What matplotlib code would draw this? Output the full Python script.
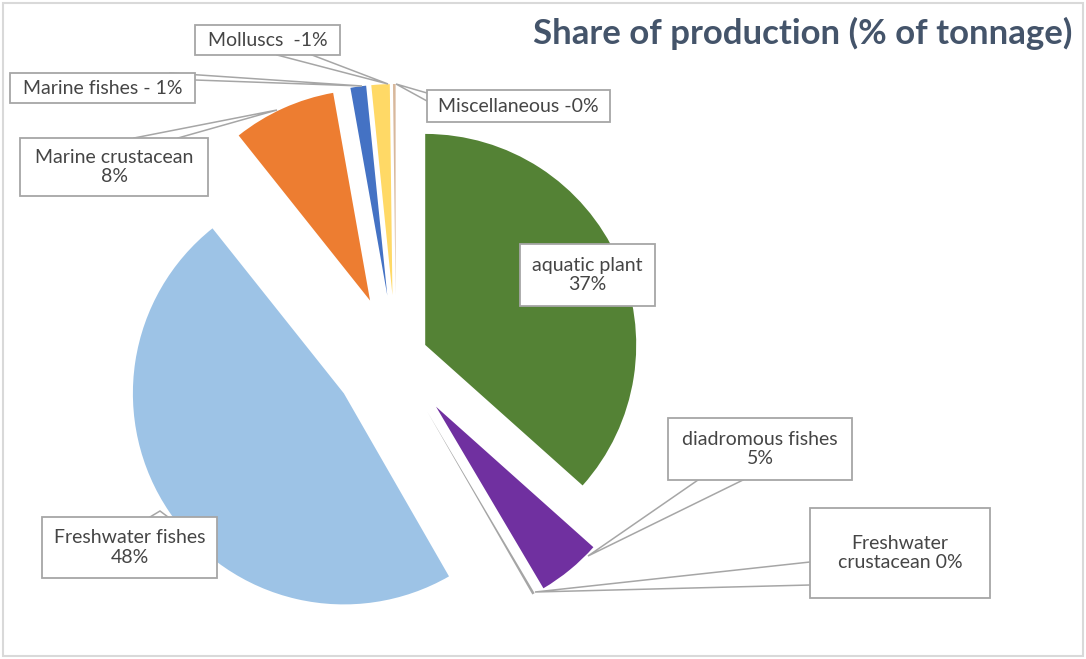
import numpy as np
import matplotlib
matplotlib.use("Agg")
import matplotlib.pyplot as plt
from matplotlib.patches import Rectangle

plt.rcParams["font.family"] = ["Lato", "DejaVu Sans"]

# share of production, % of tonnage (clockwise from 12 o'clock)
categories = ["aquatic plant", "diadromous fishes", "Freshwater crustacean",
              "Freshwater fishes", "Marine crustacean", "Marine fishes",
              "Molluscs", "Miscellaneous"]
shares = [36.6, 4.9, 0.2, 47.6, 7.9, 1.2, 1.4, 0.2]
label_texts = ["aquatic plant\n37%", "diadromous fishes\n5%", "Freshwater\ncrustacean 0%",
               "Freshwater fishes\n48%", "Marine crustacean\n8%", "Marine fishes - 1%",
               "Molluscs  -1%", "Miscellaneous -0%"]

colors = ["#548235", "#7030A0", "#A5A5A5", "#9DC3E6", "#ED7D31", "#4472C4",
          "#FFD966", "#D8B89C"]
explode = [32, 63, 62, 63, 63, 63, 63, 63]

W, H = 1086, 659
fig = plt.figure(figsize=(W / 100, H / 100), dpi=100)
ax = fig.add_axes([0, 0, 1, 1])

def px(x, y):
    return x, H - y

cx, cy = px(396, 358)
ax.pie(shares, colors=colors, explode=explode, radius=211, center=(cx, cy),
       startangle=90, counterclock=False, wedgeprops=dict(linewidth=0))
ax.set_xlim(0, W)
ax.set_ylim(0, H)
ax.set_aspect("auto")
ax.axis("off")

# label boxes (left, top, right, bottom in pixels) and callout pointers
boxes = [(520, 244, 655, 306), (668, 418, 852, 480), (810, 508, 990, 598),
         (42, 517, 217, 578), (20, 138, 208, 196), (10, 73, 195, 103),
         (195, 25, 340, 55), (427, 90, 610, 122)]
pointers = [None,
            [(698, 480), (588, 556), (743, 480)],
            [(810, 562), (535, 592), (810, 585)],
            [(150, 517), (160, 511), (168, 517)],
            [(134, 138), (277, 110), (178, 138)],
            [(170, 73), (362, 86), (195, 80)],
            [(277, 55), (388, 84), (312, 55)],
            [(427, 93), (396, 84), (427, 101)]]

edge = "#A6A6A6"
for txt, (l, t, r, b), ptr in zip(label_texts, boxes, pointers):
    if ptr is not None:
        xs, ys = zip(*[px(*p) for p in ptr])
        ax.plot(xs, ys, color=edge, lw=1.1, zorder=3, solid_joinstyle="miter")
    x0, y0 = px(l, b)
    ax.add_patch(Rectangle((x0, y0), r - l, b - t, facecolor="white",
                           edgecolor=edge, lw=1.3, zorder=4))
    ax.text(*px((l + r) / 2, (t + b) / 2), txt, ha="center", va="center",
            fontsize=14, color="#454545", linespacing=1.2, zorder=5)

fig.text(1072 / W, 1 - 33 / H, "Share of production (% of tonnage)", ha="right",
         va="center", fontsize=25, fontweight="bold", color="#44546A")

# thin frame around the slide
fig.patches.append(Rectangle((3 / W, 3 / H), 1 - 6 / W, 1 - 6 / H, transform=fig.transFigure,
                             fill=False, edgecolor="#D9D9D9", lw=1.5))

fig.savefig("out.png", dpi=100)
